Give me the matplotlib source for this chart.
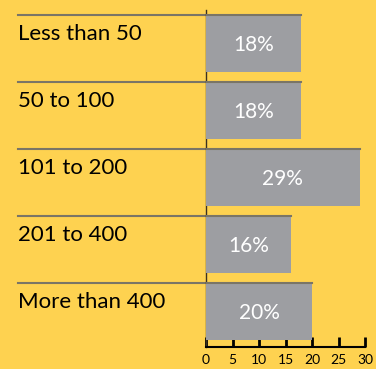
import matplotlib.pyplot as plt
import matplotlib.transforms as mtransforms

# data
categories = ['Less than 50', '50 to 100', '101 to 200', '201 to 400', 'More than 400']
shares = [18, 18, 29, 16, 20]
xticks = [0, 5, 10, 15, 20, 25, 30]

bg = '#FED250'
bar_color = '#9D9EA2'
line_color = '#7A7566'

plt.rcParams['font.family'] = ['Lato', 'DejaVu Sans']

fig = plt.figure(figsize=(3.76, 3.69), dpi=100, facecolor=bg)
W, H = 376, 369
# axes placed in pixel units: x 206..365, y 10..347 (from top)
ax = fig.add_axes([206 / W, 1 - 347 / H, (365 - 206) / W, (347 - 10) / H])
ax.set_facecolor(bg)

ypos = list(range(len(categories)))
bar_h = 0.85
ax.barh(ypos, shares, height=bar_h, align='edge', color=bar_color, zorder=3)

ax.set_xlim(0, 30)
ax.set_ylim(len(categories) - 1 + bar_h + 0.1, -0.075)

# separator lines running from the left label area across each bar top
trans = mtransforms.blended_transform_factory(ax.transAxes, ax.transData)
left_frac = (18 - 206) / (365 - 206)
for y, v in zip(ypos, shares):
    ax.plot([left_frac, 0], [y, y], transform=trans, color=line_color,
            lw=1.5, clip_on=False, zorder=2)
    ax.plot([0, v], [y, y], color=line_color, lw=1.5, zorder=4)

for y, name, v in zip(ypos, categories, shares):
    ax.text(left_frac, y + 0.13, name, transform=trans, ha='left', va='top',
            fontsize=16, color='black')
    ax.text(v / 2, y + bar_h / 2 + 0.02, f'{v}%', ha='center', va='center',
            fontsize=15, color='white', zorder=5)

for s in ['top', 'right']:
    ax.spines[s].set_visible(False)
ax.spines['left'].set_color('#3A3020')
ax.spines['left'].set_linewidth(1)
ax.spines['bottom'].set_color('black')
ax.spines['bottom'].set_linewidth(1.5)

ax.set_yticks([])
ax.set_xticks(xticks)
ax.tick_params(axis='x', direction='in', length=7, width=2, pad=5,
               labelsize=10, colors='black')

fig.savefig('out.png', dpi=100, facecolor=bg)
